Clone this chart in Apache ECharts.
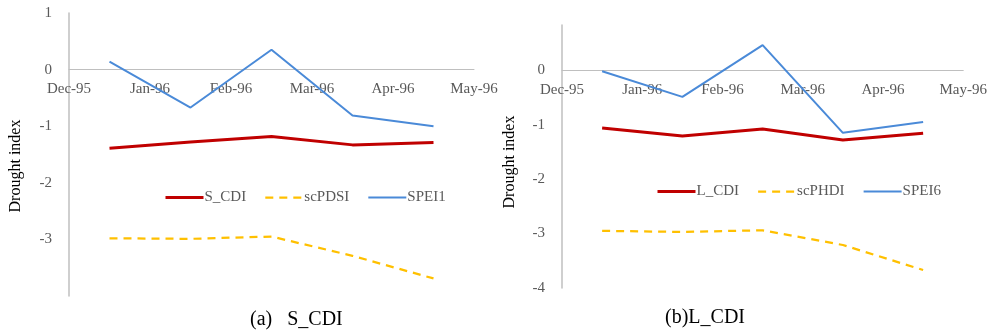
<!DOCTYPE html>
<html>
<head>
<meta charset="utf-8">
<script src="https://cdn.jsdelivr.net/npm/echarts@6/dist/echarts.min.js"></script>
<style>
html,body{margin:0;padding:0;background:#fff;}
#c{width:990px;height:336px;}
</style>
</head>
<body>
<div id="c"></div>
<script>
// Month tick labels (boundaries), points sit mid-month
const monthLabels = ['Dec-95','Jan-96','Feb-96','Mar-96','Apr-96','May-96'];
const pointMonths = ['Dec-95','Jan-96','Feb-96','Mar-96','Apr-96'];

// (a) S_CDI panel
const sCDI   = [-1.39, -1.28, -1.18, -1.33, -1.29];
const scPDSI = [-2.98, -2.99, -2.95, -3.29, -3.69];
const SPEI1  = [0.14, -0.67, 0.35, -0.81, -1.00];

// (b) L_CDI panel
const lCDI   = [-1.06, -1.21, -1.08, -1.28, -1.16];
const scPHDI = [-2.95, -2.97, -2.94, -3.21, -3.67];
const SPEI6  = [-0.02, -0.49, 0.46, -1.15, -0.95];

const RED = '#c00000', YEL = '#ffc000', BLUE = '#4a8ad8';
const FONT = '"Liberation Serif", "Times New Roman", serif';

const grids = [
  {left:69, top:13, width:405, height:283, ymin:-4, ymax:1},
  {left:562, top:25, width:403, height:263, ymin:-4, ymax:0.83}
];

function pts(vals){
  // x = month index + 0.5 (middle of the month band)
  return vals.map((v,i)=>[monthLabels.indexOf(pointMonths[i]) + 0.5, v]);
}

function xAxisDef(gi){
  const g = grids[gi];
  // shift the axis from the grid bottom up to the y = 0 line
  const off = -(g.height * (0 - g.ymin) / (g.ymax - g.ymin));
  return {
    type:'value', gridIndex:gi, min:0, max:monthLabels.length-1, interval:1,
    position:'bottom', offset:off,
    axisLine:{onZero:false, lineStyle:{color:'#bfbfbf', width:1}},
    axisTick:{show:false}, splitLine:{show:false},
    axisLabel:{
      formatter:(v)=>monthLabels[Math.round(v)] || '',
      color:'#595959', fontFamily:FONT, fontSize:15, margin:12,
      showMinLabel:true, showMaxLabel:true
    }
  };
}
function yAxisDef(gi, hideMin, hideMax){
  const g = grids[gi];
  return {
    type:'value', gridIndex:gi, min:g.ymin, max:g.ymax, interval:1,
    axisLine:{show:true, onZero:false, lineStyle:{color:'#bfbfbf', width:1.5}},
    axisTick:{show:false}, splitLine:{show:false},
    axisLabel:{
      color:'#595959', fontFamily:FONT, fontSize:15, margin:17,
      showMinLabel:!hideMin, showMaxLabel:!hideMax
    }
  };
}

const styles = {
  red:{color:RED, width:3, dashed:false},
  yel:{color:YEL, width:2.25, dashed:true},
  blue:{color:BLUE, width:2, dashed:false}
};

function lineSeries(name, vals, gi, st){
  return {
    name:name, type:'line', xAxisIndex:gi, yAxisIndex:gi,
    data:pts(vals), symbol:'none', showSymbol:false, smooth:false,
    lineStyle:{color:st.color, width:st.width, type: st.dashed ? [8,6] : 'solid'},
    itemStyle:{color:st.color}, z: st.dashed ? 2 : 3
  };
}
function legendItem(name, st){
  return {name:name, lineStyle:{color:st.color, width:st.width, type: st.dashed ? [8,6] : 'solid'}};
}

const legendCommon = {
  itemWidth:38, itemHeight:14, itemGap:18,
  itemStyle:{opacity:0},
  textStyle:{color:'#595959', fontFamily:FONT, fontSize:15, padding:[0,0,0,-4]}
};

const chart = echarts.init(document.getElementById('c'), null, {renderer:'canvas'});
chart.setOption({
  backgroundColor:'#fff',
  animation:false,
  grid:grids.map(g=>({left:g.left, top:g.top, width:g.width, height:g.height})),
  xAxis:[xAxisDef(0), xAxisDef(1)],
  yAxis:[yAxisDef(0, true, false), yAxisDef(1, false, true)],
  legend:[
    Object.assign({left:159, top:185, data:[legendItem('S_CDI',styles.red), legendItem('scPDSI',styles.yel), legendItem('SPEI1',styles.blue)]}, legendCommon),
    Object.assign({left:651, top:179, data:[legendItem('L_CDI',styles.red), legendItem('scPHDI',styles.yel), legendItem('SPEI6',styles.blue)]}, legendCommon)
  ],
  series:[
    lineSeries('S_CDI', sCDI, 0, styles.red),
    lineSeries('scPDSI', scPDSI, 0, styles.yel),
    lineSeries('SPEI1', SPEI1, 0, styles.blue),
    lineSeries('L_CDI', lCDI, 1, styles.red),
    lineSeries('scPHDI', scPHDI, 1, styles.yel),
    lineSeries('SPEI6', SPEI6, 1, styles.blue)
  ],
  graphic:[
    {type:'text', x:16, y:166, rotation:Math.PI/2,
     style:{text:'Drought index', fill:'#000', font:'16px ' + FONT, align:'center', verticalAlign:'middle'}},
    {type:'text', x:510, y:162, rotation:Math.PI/2,
     style:{text:'Drought index', fill:'#000', font:'16px ' + FONT, align:'center', verticalAlign:'middle'}},
    {type:'text', x:250, y:320,
     style:{text:'(a)   S_CDI', fill:'#000', font:'20px ' + FONT, align:'left', verticalAlign:'middle'}},
    {type:'text', x:665, y:318,
     style:{text:'(b)L_CDI', fill:'#000', font:'20px ' + FONT, align:'left', verticalAlign:'middle'}}
  ]
});
</script>
</body>
</html>
